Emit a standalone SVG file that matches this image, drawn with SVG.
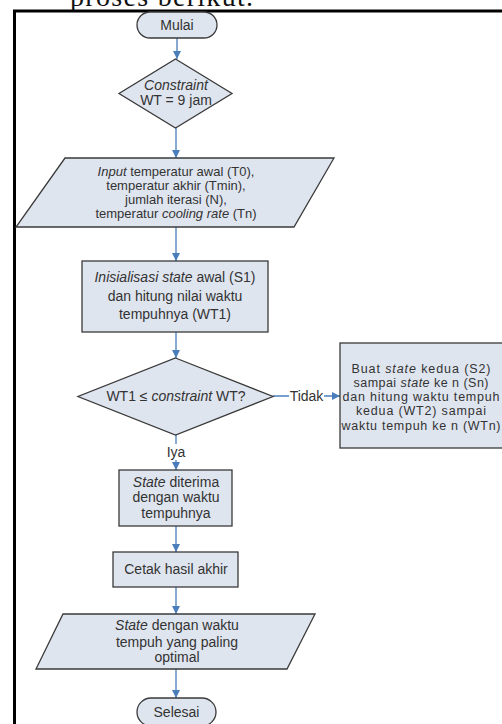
<svg xmlns="http://www.w3.org/2000/svg" width="502" height="724" viewBox="0 0 502 724">
<style>
.n{fill:#dfe5ef;stroke:#3a3a3a;stroke-width:1.3}
.t{font-family:"Liberation Sans",Arial,sans-serif;font-size:14px;fill:#333;text-anchor:middle}
.s{font-size:13px}
.r{font-size:12.5px}
.c{fill:none;stroke:#4a7ebb;stroke-width:1.3}
.lb{fill:#fff;stroke:none}
.i{font-style:italic}
</style>
<defs>
<marker id="ah" markerUnits="userSpaceOnUse" markerWidth="8" markerHeight="8" refX="8" refY="4" orient="auto">
<path d="M0,0 L8,4 L0,8 z" fill="#4a7ebb"/>
</marker>
</defs>
<rect width="502" height="724" fill="#fff"/>
<text x="70" y="6" font-family="'Liberation Serif','Times New Roman',serif" font-size="28" fill="#111" textLength="183">proses berikut.</text>
<rect x="14.5" y="11" width="500" height="720" fill="none" stroke="#000" stroke-width="3"/>

<g id="connectors">
<path class="c" d="M177,38 V59" marker-end="url(#ah)"/>
<path class="c" d="M176,128 V158" marker-end="url(#ah)"/>
<path class="c" d="M176,227 V261" marker-end="url(#ah)"/>
<path class="c" d="M176,332 V358" marker-end="url(#ah)"/>
<path class="c" d="M273,396 H340" marker-end="url(#ah)"/>
<path class="c" d="M176,435 V470" marker-end="url(#ah)"/>
<path class="c" d="M176,526 V552" marker-end="url(#ah)"/>
<path class="c" d="M176,587 V614" marker-end="url(#ah)"/>
<path class="c" d="M176,669 V698" marker-end="url(#ah)"/>
<rect class="lb" x="289" y="388" width="35" height="16"/>
<text class="t" x="306.5" y="401">Tidak</text>
<rect class="lb" x="166" y="444" width="20" height="16"/>
<text class="t" x="176" y="457">Iya</text>
</g>

<g id="mulai">
<rect class="n" x="137" y="12" width="80" height="26" rx="13"/>
<text class="t" x="177" y="30">Mulai</text>
</g>

<g id="constraint">
<polygon class="n" points="175.5,59 232,93.5 175.5,128 119,93.5"/>
<text class="t" x="176" y="90"><tspan class="i">Constraint</tspan></text>
<text class="t" x="176" y="105">WT = 9 jam</text>
</g>

<g id="input">
<polygon class="n" points="65,158 334,158 294,227 16,227"/>
<text class="t s" x="176" y="175.5"><tspan class="i">Input</tspan> temperatur awal (T0),</text>
<text class="t s" x="176" y="189.5">temperatur akhir (Tmin),</text>
<text class="t s" x="176" y="203.5">jumlah iterasi (N),</text>
<text class="t s" x="176" y="217.5">temperatur <tspan class="i">cooling rate</tspan> (Tn)</text>
</g>

<g id="inisialisasi">
<rect class="n" x="82" y="261" width="186" height="71"/>
<text class="t" x="175" y="282"><tspan class="i">Inisialisasi state</tspan> awal (S1)</text>
<text class="t" x="175" y="301">dan hitung nilai waktu</text>
<text class="t" x="175" y="319">tempuhnya (WT1)</text>
</g>

<g id="cek">
<polygon class="n" points="175.5,358 273,396.5 175.5,435 78,396.5"/>
<text class="t" x="176" y="401">WT1 ≤ <tspan class="i">constraint</tspan> WT?</text>
</g>

<g id="buat">
<rect class="n" x="340" y="343" width="164" height="105"/>
<text class="t r" x="421" y="372.5" textLength="139">Buat <tspan class="i">state</tspan> kedua (S2)</text>
<text class="t r" x="421" y="386.8" textLength="135">sampai <tspan class="i">state</tspan> ke n (Sn)</text>
<text class="t r" x="421" y="401.1" textLength="157">dan hitung waktu tempuh</text>
<text class="t r" x="421" y="415.4" textLength="130">kedua (WT2) sampai</text>
<text class="t r" x="421" y="429.7" textLength="159">waktu tempuh ke n (WTn)</text>
</g>

<g id="diterima">
<rect class="n" x="119" y="470" width="113" height="56"/>
<text class="t" x="176" y="487"><tspan class="i">State</tspan> diterima</text>
<text class="t" x="176" y="502">dengan waktu</text>
<text class="t" x="176" y="518">tempuhnya</text>
</g>

<g id="cetak">
<rect class="n" x="113" y="552" width="125" height="35"/>
<text class="t" x="176" y="574">Cetak hasil akhir</text>
</g>

<g id="output">
<polygon class="n" points="63,614 315,614 287,669 36,669"/>
<text class="t" x="177" y="630"><tspan class="i">State</tspan> dengan waktu</text>
<text class="t" x="177" y="647">tempuh yang paling</text>
<text class="t" x="177" y="662">optimal</text>
</g>

<g id="selesai">
<rect class="n" x="137" y="698" width="79" height="28" rx="14"/>
<text class="t" x="176.5" y="717">Selesai</text>
</g>
</svg>
